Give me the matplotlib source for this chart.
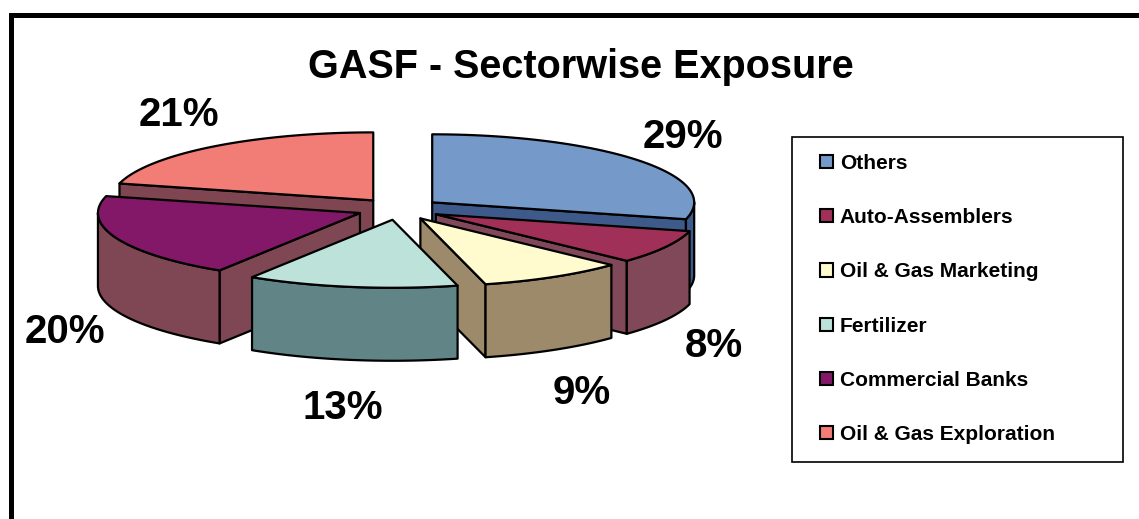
import numpy as np
import matplotlib.pyplot as plt
from matplotlib.patches import Polygon, Rectangle, Patch

plt.rcParams['font.family'] = ['Liberation Sans', 'DejaVu Sans']
plt.rcParams['font.weight'] = 'bold'

# chart data
sectors = ["Others", "Auto-Assemblers", "Oil & Gas Marketing", "Fertilizer",
           "Commercial Banks", "Oil & Gas Exploration"]
shares = [29, 8, 9, 13, 20, 21]
pct_labels = ["29%", "8%", "9%", "13%", "20%", "21%"]

top_colors = ["#7599C8", "#A03058", "#FFFBCF", "#BCE2DA", "#841868", "#F27D77"]
side_colors = ["#3E5A8A", "#804858", "#9C8A6B", "#618587", "#7F4653", "#7F4651"]

W, H = 1139, 519
fig = plt.figure(figsize=(W / 100, H / 100), dpi=100)

# pie drawn in units of its horizontal radius
cx, cy, rx = 399, 209, 262      # pixel centre and radius
tilt = 68 / 262                 # vertical squash of the ellipse
depth = 73 / 262                # thickness of the pie
explode = 42 / 262              # every slice pulled out by this much

ax = fig.add_axes([0, 0, 1, 1])
ax.set_xlim(-cx / rx, (W - cx) / rx)
ax.set_ylim(-(H - cy) / rx, cy / rx)
ax.axis('off')

fracs = np.array(shares) / sum(shares)
edges = 90 - 360 * np.concatenate([[0], np.cumsum(fracs)])

lw = 1.6


def arc(ox, oy, a0, a1, dz=0.0, n=60):
    t = np.radians(np.linspace(a0, a1, n))
    return np.column_stack([ox + np.cos(t), oy + tilt * np.sin(t) - dz])


slices = []
for i in range(len(shares)):
    a_hi, a_lo = edges[i], edges[i + 1]
    mid = (a_hi + a_lo) / 2
    slices.append((np.sin(np.radians(mid)), i, a_hi, a_lo, mid))

# back slices first
for _, i, a_hi, a_lo, mid in sorted(slices, reverse=True):
    m = np.radians(mid)
    ox, oy = explode * np.cos(m), explode * tilt * np.sin(m)
    apex = np.array([[ox, oy]])

    # flat side faces
    for a, show in ((a_hi, np.cos(np.radians(a_hi)) < -1e-9),
                    (a_lo, np.cos(np.radians(a_lo)) > 1e-9)):
        if show:
            r = np.radians(a)
            rim = [ox + np.cos(r), oy + tilt * np.sin(r)]
            pts = [[ox, oy], rim, [rim[0], rim[1] - depth], [ox, oy - depth]]
            ax.add_patch(Polygon(pts, closed=True, facecolor=side_colors[i],
                                 edgecolor='black', lw=lw, joinstyle='round'))

    # curved outer wall, front half only
    t0, t1 = max(a_lo, -180), min(a_hi, 0)
    if t1 > t0:
        upper = arc(ox, oy, t1, t0)
        lower = arc(ox, oy, t0, t1, dz=depth)
        ax.add_patch(Polygon(np.vstack([upper, lower]), closed=True,
                             facecolor=side_colors[i], edgecolor='black',
                             lw=lw, joinstyle='round'))

    # top face
    top = np.vstack([apex, arc(ox, oy, a_hi, a_lo)])
    ax.add_patch(Polygon(top, closed=True, facecolor=top_colors[i],
                         edgecolor='black', lw=lw, joinstyle='round'))

    # percentage label just outside the rim of the slice
    lx = ox + np.cos(m)
    ly = oy + tilt * np.sin(m) - (depth if np.sin(m) < 0 else 0)
    ax.text(lx + 55 / rx * np.cos(m), ly + 45 / rx * np.sin(m), pct_labels[i],
            ha='center', va='center_baseline', fontsize=29, fontweight='bold')


def fx(px):
    return px / W


def fy(py):
    return 1 - py / H


# chart frame (right and bottom edges fall outside the picture)
fig.patches.append(Rectangle((fx(10.5), -0.1), 1.2, fy(14.5) + 0.1,
                             transform=fig.transFigure, fill=False,
                             edgecolor='black', lw=3.6))

fig.text(fx(581), fy(78), "GASF - Sectorwise Exposure", ha='center',
         va='baseline', fontsize=28.5, fontweight='bold')

# legend box and entries
fig.patches.append(Rectangle((fx(792), fy(462)), fx(1123) - fx(792),
                             fy(137) - fy(462), transform=fig.transFigure,
                             fill=False, edgecolor='black', lw=1.2))
handles = [Patch(facecolor=c, edgecolor='black', lw=1.5) for c in top_colors]
fig.legend(handles, sectors, loc='center left',
           bbox_to_anchor=(fx(820), fy(299)), frameon=False,
           borderpad=0, borderaxespad=0, handlelength=0.6, handleheight=0.6,
           handletextpad=0.35, labelspacing=1.69,
           prop={'size': 15, 'weight': 'bold'})

fig.savefig("out.png", dpi=100)
